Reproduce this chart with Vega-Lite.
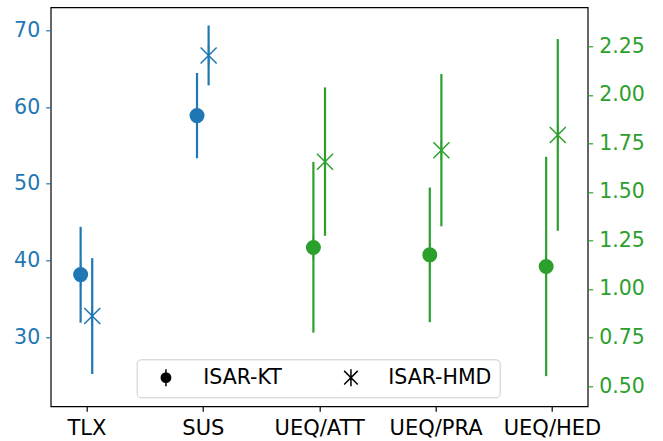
{
  "$schema": "https://vega.github.io/schema/vega-lite/v6.json",
  "width": 537,
  "height": 399,
  "autosize": {"type": "none"},
  "padding": {"left": 50.7, "top": 7.3, "right": 75.3, "bottom": 34.7},
  "data": {
    "values": [
      {"metric": "TLX", "group": "ISAR-KT", "mean": 38.15, "lo": 31.88, "hi": 44.38},
      {"metric": "TLX", "group": "ISAR-HMD", "mean": 32.74, "lo": 25.18, "hi": 40.3},
      {"metric": "SUS", "group": "ISAR-KT", "mean": 58.89, "lo": 53.33, "hi": 64.45},
      {"metric": "SUS", "group": "ISAR-HMD", "mean": 66.74, "lo": 62.83, "hi": 70.65},
      {"metric": "UEQ/ATT", "group": "ISAR-KT", "mean": 1.214, "lo": 0.775, "hi": 1.655},
      {"metric": "UEQ/ATT", "group": "ISAR-HMD", "mean": 1.656, "lo": 1.274, "hi": 2.039},
      {"metric": "UEQ/PRA", "group": "ISAR-KT", "mean": 1.176, "lo": 0.829, "hi": 1.523},
      {"metric": "UEQ/PRA", "group": "ISAR-HMD", "mean": 1.715, "lo": 1.323, "hi": 2.108},
      {"metric": "UEQ/HED", "group": "ISAR-KT", "mean": 1.116, "lo": 0.551, "hi": 1.681},
      {"metric": "UEQ/HED", "group": "ISAR-HMD", "mean": 1.794, "lo": 1.3, "hi": 2.288}
    ]
  },
  "encoding": {
    "x": {
      "field": "metric",
      "type": "nominal",
      "sort": ["TLX", "SUS", "UEQ/ATT", "UEQ/PRA", "UEQ/HED"],
      "scale": {"type": "point", "domain": ["TLX", "SUS", "UEQ/ATT", "UEQ/PRA", "UEQ/HED"], "padding": 0.307},
      "axis": {"title": null, "labelAngle": 0, "domain": false, "tickColor": "black", "labelColor": "black", "tickSize": 5, "labelPadding": 6, "labelFontSize": 21}
    },
    "xOffset": {
      "field": "group",
      "type": "nominal",
      "scale": {"domain": ["ISAR-KT", "ISAR-HMD"], "range": [-11.6, 11.6]}
    }
  },
  "layer": [
    {
      "transform": [{"filter": "false"}],
      "mark": {"type": "point", "filled": true, "color": "black", "stroke": "black", "strokeWidth": 1.5, "opacity": 1},
      "encoding": {
        "shape": {
          "field": "group",
          "type": "nominal",
          "scale": {"domain": ["ISAR-KT", "ISAR-HMD"], "range": ["M0,-1L0,1M-0.55,0A0.55,0.55,0,1,1,0.55,0A0.55,0.55,0,1,1,-0.55,0Z", "M0,-1L0,1M-0.8,-0.8L0.8,0.8M-0.8,0.8L0.8,-0.8"]},
          "legend": {
            "title": null,
            "orient": "none",
            "legendX": 86,
            "legendY": 352,
            "direction": "horizontal",
            "columns": 2,
            "symbolSize": 289,
            "symbolStrokeWidth": 1.5,
            "symbolOffset": 11,
            "labelOffset": 27,
            "columnPadding": 47,
            "padding": 8,
            "labelFontSize": 20.5,
            "labelColor": "black",
            "strokeColor": "#cccccc",
            "fillColor": "rgba(255,255,255,0.8)",
            "cornerRadius": 4
          }
        }
      }
    },
    {
      "transform": [{"filter": {"field": "metric", "oneOf": ["TLX", "SUS"]}}],
      "layer": [
        {
          "mark": {"type": "rule", "color": "#1f77b4", "strokeWidth": 2.2},
          "encoding": {
            "y": {"field": "lo", "type": "quantitative", "scale": {"domain": [20.97, 73.02], "nice": false, "zero": false},
              "axis": {"orient": "left", "title": null, "values": [30, 40, 50, 60, 70], "labelColor": "#1f77b4", "tickColor": "#1f77b4", "domain": false, "grid": false, "tickSize": 5, "labelPadding": 6, "labelFontSize": 20.5}},
            "y2": {"field": "hi"}
          }
        },
        {
          "mark": {"type": "point", "filled": true, "color": "#1f77b4", "stroke": "#1f77b4", "strokeWidth": 1.5, "opacity": 1},
          "encoding": {
            "y": {"field": "mean", "type": "quantitative"},
            "shape": {"field": "group", "type": "nominal", "legend": null},
            "size": {"condition": {"test": "datum.group === 'ISAR-KT'", "value": 605}, "value": 400}
          }
        }
      ]
    },
    {
      "transform": [{"filter": {"field": "metric", "oneOf": ["UEQ/ATT", "UEQ/PRA", "UEQ/HED"]}}],
      "layer": [
        {
          "mark": {"type": "rule", "color": "#2ca02c", "strokeWidth": 2.2},
          "encoding": {
            "y": {"field": "lo", "type": "quantitative", "scale": {"domain": [0.3955, 2.4517], "nice": false, "zero": false},
              "axis": {"orient": "right", "title": null, "values": [0.5, 0.75, 1.0, 1.25, 1.5, 1.75, 2.0, 2.25], "format": ".2f", "labelColor": "#2ca02c", "tickColor": "#2ca02c", "domain": false, "grid": false, "tickSize": 5, "labelPadding": 6, "labelFontSize": 20.5}},
            "y2": {"field": "hi"}
          }
        },
        {
          "mark": {"type": "point", "filled": true, "color": "#2ca02c", "stroke": "#2ca02c", "strokeWidth": 1.5, "opacity": 1},
          "encoding": {
            "y": {"field": "mean", "type": "quantitative"},
            "shape": {"field": "group", "type": "nominal", "legend": null},
            "size": {"condition": {"test": "datum.group === 'ISAR-KT'", "value": 605}, "value": 400}
          }
        }
      ]
    }
  ],
  "resolve": {"scale": {"y": "independent"}},
  "config": {
    "font": "DejaVu Sans",
    "view": {"stroke": "black", "strokeWidth": 1.2},
    "axis": {"labelFont": "DejaVu Sans", "tickWidth": 1.2}
  }
}
